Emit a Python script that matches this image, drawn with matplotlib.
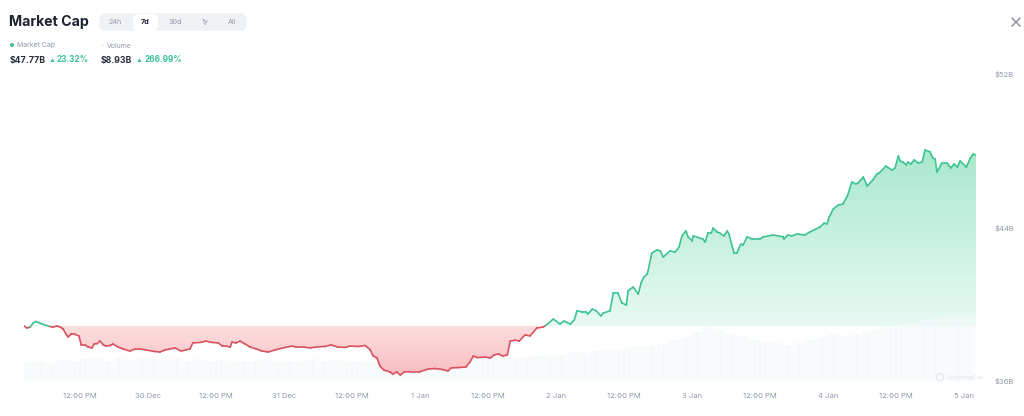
import numpy as np
import matplotlib
matplotlib.use("Agg")
import matplotlib.pyplot as plt
from matplotlib.collections import LineCollection
from matplotlib.colors import LinearSegmentedColormap
from matplotlib.patches import Circle, FancyBboxPatch
from matplotlib.path import Path

plt.rcParams["font.family"] = ["Inter", "DejaVu Sans"]

# hours since 29 Dec 00:00
hours = [
    2.1, 2.6, 3.2, 3.7, 4.2, 4.9, 5.8, 6.7, 7.2, 7.9, 8.5, 9.0, 9.5, 9.9, 10.4, 10.9, 11.8, 12.2, 12.9, 13.4,
    14.1, 14.5, 15.0, 15.5, 16.1, 16.6, 17.3, 17.8, 18.7, 19.6, 20.8, 21.7, 22.6, 23.6, 25.1, 26.1, 27.0, 28.8, 29.8, 31.4,
    31.9, 33.2, 34.2, 35.3, 36.4, 37.1, 37.8, 38.5, 38.8, 39.5, 40.2, 41.1, 42.0, 43.1, 44.1, 45.2, 46.4, 48.2, 49.4, 50.1,
    51.5, 52.6, 53.6, 55.2, 56.3, 57.5, 58.8, 59.6, 61.1, 62.3, 63.2, 63.7, 64.4, 64.9, 65.6, 66.7, 67.2, 67.9, 68.5, 69.2,
    70.2, 72.0, 73.4, 74.6, 75.9, 76.9, 77.5, 78.7, 80.1, 80.8, 81.4, 82.1, 83.5, 84.4, 85.1, 85.8, 86.6, 87.4, 87.9, 88.8,
    89.5, 90.5, 91.4, 92.6, 93.7, 94.1, 95.5, 96.7, 97.4, 98.5, 99.2, 99.7, 100.6, 101.3, 101.6, 102.4, 103.1, 103.9, 104.3, 105.5,
    106.1, 106.9, 107.6, 108.4, 108.7, 109.6, 110.5, 111.0, 111.5, 112.1, 112.9, 113.8, 114.4, 114.9, 116.1, 117.0, 117.7, 118.2, 118.9, 119.3,
    120.0, 120.2, 121.9, 122.3, 122.8, 123.4, 123.7, 124.4, 124.9, 125.6, 126.2, 126.5, 127.4, 127.9, 128.6, 129.0, 129.7, 130.6, 132.0, 132.5,
    134.3, 136.1, 136.2, 136.9, 137.6, 138.5, 139.9, 140.8, 142.6, 143.3, 143.8, 144.2, 144.9, 145.8, 146.6, 147.4, 148.2, 148.9, 149.3, 150.2,
    150.9, 151.9, 152.6, 153.0, 154.2, 155.3, 155.8, 156.4, 156.7, 157.2, 157.8, 158.1, 158.6, 159.2, 159.9, 160.6, 161.1, 162.0, 162.5, 162.9,
    163.2, 164.1, 165.0, 165.7, 166.2, 166.8, 167.3, 168.4, 169.1, 169.6, 170.1,
]
market_cap = [
    38.87, 38.76, 38.81, 39.02, 39.10, 39.02, 38.92, 38.84, 38.81, 38.87, 38.81, 38.71, 38.45, 38.29, 38.45, 38.45, 38.35, 37.88, 37.88, 37.77,
    37.72, 37.93, 37.95, 38.08, 37.88, 37.82, 37.85, 37.93, 37.77, 37.67, 37.56, 37.67, 37.67, 37.62, 37.54, 37.51, 37.62, 37.72, 37.56, 37.67,
    37.98, 38.01, 38.08, 38.01, 37.98, 37.82, 37.82, 37.77, 38.03, 37.98, 38.08, 37.93, 37.77, 37.67, 37.56, 37.51, 37.62, 37.75, 37.82, 37.77,
    37.77, 37.72, 37.77, 37.80, 37.88, 37.77, 37.75, 37.82, 37.80, 37.85, 37.62, 37.31, 37.20, 36.78, 36.57, 36.47, 36.36, 36.47, 36.31, 36.47,
    36.49, 36.49, 36.62, 36.65, 36.60, 36.52, 36.68, 36.70, 36.73, 36.99, 37.30, 37.22, 37.25, 37.20, 37.36, 37.41, 37.30, 37.36, 38.08, 38.13,
    38.08, 38.40, 38.35, 38.76, 38.81, 38.88, 39.23, 38.97, 39.13, 38.96, 39.18, 39.66, 39.60, 39.60, 39.49, 39.75, 39.65, 39.39, 39.54, 39.65,
    40.59, 40.59, 40.07, 39.96, 40.69, 40.90, 40.53, 41.11, 41.42, 41.58, 42.67, 42.83, 42.78, 42.46, 42.78, 42.72, 42.98, 43.56, 43.82, 43.51,
    43.30, 43.56, 43.40, 43.24, 43.71, 43.71, 43.97, 43.77, 43.71, 43.56, 43.82, 43.66, 42.67, 42.67, 43.14, 43.09, 43.51, 43.40, 43.40, 43.51,
    43.61, 43.51, 43.40, 43.61, 43.56, 43.66, 43.61, 43.77, 44.03, 44.23, 44.18, 44.55, 44.96, 45.17, 45.22, 45.64, 46.37, 46.27, 46.32, 46.63,
    46.16, 46.48, 46.79, 46.84, 47.20, 46.99, 47.10, 47.73, 47.47, 47.41, 47.26, 47.41, 47.31, 47.52, 47.36, 47.41, 48.04, 47.94, 47.62, 47.57,
    46.89, 47.36, 47.36, 47.10, 47.31, 47.15, 47.47, 47.15, 47.62, 47.83, 47.77,
]
baseline = 38.87

# one volume bar every two hours, in $B
volume_hours = list(range(3, 171, 2))
volume = [
    2.5, 2.7, 2.4, 2.8, 2.6, 2.9, 3.0, 2.7, 3.1, 2.8, 3.0, 3.2, 2.8, 3.0, 2.7, 2.9, 2.6, 2.8, 2.5, 2.7, 2.6,
    2.8, 2.5, 2.7, 2.6, 2.9, 2.6, 2.8, 2.5, 2.7, 2.6, 2.5, 2.7, 2.6, 2.8, 3.0, 3.2, 3.3, 3.1, 3.2, 3.0, 3.1,
    3.2, 3.0, 3.2, 3.3, 3.4, 3.5, 3.8, 3.7, 4.0, 4.2, 4.1, 4.5, 4.7, 4.6, 4.9, 5.4, 5.8, 6.5, 7.2, 6.8, 6.3,
    6.0, 5.4, 5.2, 5.0, 4.8, 5.1, 5.4, 5.8, 6.2, 6.0, 6.3, 6.6, 6.9, 7.3, 7.6, 7.9, 8.1, 8.3, 8.5, 8.7, 8.93,
]

price_ticks = [36, 44, 52]
price_labels = ["$36B", "$44B", "$52B"]
time_ticks = [12, 24, 36, 48, 60, 72, 84, 96, 108, 120, 132, 144, 156, 168]
time_labels = ["12:00 PM", "30 Dec", "12:00 PM", "31 Dec", "12:00 PM", "1 Jan", "12:00 PM", "2 Jan",
               "12:00 PM", "3 Jan", "12:00 PM", "4 Jan", "12:00 PM", "5 Jan"]

GREEN = "#3cc492"
RED = "#d8535f"
GREY = "#8f97a8"

hours = np.array(hours)
market_cap = np.array(market_cap)

fig = plt.figure(figsize=(10.24, 4.16), dpi=100)
ax = fig.add_axes([24 / 1024, 1 - 381 / 416, (976 - 24) / 1024, (381 - 74) / 416])
ax.set_xlim(2.1, 170.1)
ax.set_ylim(36, 52)

# volume bars sit on their own scale at the bottom
vol_ax = ax.twinx()
vol_ax.set_ylim(0, 40.9)
vol_ax.bar(volume_hours, volume, width=2, color="#f4f9fb", alpha=0.6, lw=0, zorder=2)
vol_ax.bar(volume_hours, volume, width=0.1, color="#eef3f7", alpha=0.6, lw=0, zorder=2)
vol_ax.axis("off")
ax.set_zorder(vol_ax.get_zorder() - 1)

line_ax = fig.add_axes(ax.get_position(), sharex=ax, sharey=ax)
line_ax.patch.set_alpha(0)


def gradient_fill(target, where, colors, y_low, y_high):
    poly = target.fill_between(hours, market_cap, baseline, where=where, interpolate=True, color="none", lw=0)
    clip = Path.make_compound_path(*poly.get_paths())
    cmap = LinearSegmentedColormap.from_list("fill", colors)
    img = target.imshow(np.linspace(1, 0, 256).reshape(-1, 1), cmap=cmap, aspect="auto",
                        extent=[2.1, 170.1, y_low, y_high], zorder=1)
    img.set_clip_path(clip, target.transData)


# green goes under the volume bars, red stays on top of them
gradient_fill(ax, market_cap >= baseline, ["#e8faf3", "#a9e8cd"], baseline, 48)
gradient_fill(line_ax, market_cap <= baseline, ["#f8bdc2", "#fddfe0"], 36.3, baseline)

points = np.column_stack([hours, market_cap])
segments = np.stack([points[:-1], points[1:]], axis=1)
seg_colors = [GREEN if (a + b) / 2 >= baseline else RED for a, b in zip(market_cap[:-1], market_cap[1:])]
line_ax.add_collection(LineCollection(segments, colors=seg_colors, linewidths=1.2, capstyle="round",
                                      joinstyle="round", zorder=3))
line_ax.set_xlim(2.1, 170.1)
line_ax.set_ylim(36, 52)
line_ax.axis("off")

ax.set_xlim(2.1, 170.1)
ax.set_ylim(36, 52)
ax.set_xticks(time_ticks, time_labels)
ax.yaxis.tick_right()
ax.set_yticks(price_ticks, price_labels)
ax.tick_params(length=0, labelsize=5.5, labelcolor=GREY)
ax.tick_params(axis="x", pad=9)
ax.tick_params(axis="y", pad=13)
for side in ax.spines.values():
    side.set_visible(False)

# header, close button and watermark in pixel coordinates
ui = fig.add_axes([0, 0, 1, 1], zorder=10)
ui.set_xlim(0, 1024)
ui.set_ylim(416, 0)
ui.axis("off")

ui.text(9, 22, "Market Cap", fontsize=10.2, fontweight="bold", color="#1c2230", va="center")
ui.add_patch(FancyBboxPatch((102, 16), 142, 12, boxstyle="round,pad=0,rounding_size=3",
                            fc="#eff2f5", ec="#eff2f5", lw=4))
ui.add_patch(FancyBboxPatch((135, 16), 21, 13, boxstyle="round,pad=0,rounding_size=3",
                            fc="white", ec="white", lw=3))
for label, x in zip(["24h", "7d", "30d", "1y", "All"], [115.5, 145.5, 175, 205, 232.5]):
    selected = label == "7d"
    ui.text(x, 22, label, fontsize=5.2, ha="center", va="center",
            color="#1c2230" if selected else GREY, fontweight="bold" if selected else "normal")

ui.add_patch(Circle((12, 45), 2, fc=GREEN, ec="none"))
ui.text(17, 45.5, "Market Cap", fontsize=5, color=GREY, va="center")
ui.add_patch(Circle((102.5, 45.5), 1.5, fc="#f0f3f6", ec="none"))
ui.text(107, 45.5, "Volume", fontsize=5, color=GREY, va="center")
ui.text(10, 60, "$47.77B", fontsize=6.3, fontweight="bold", color="#2a2f3b", va="center")
ui.text(49.5, 60, "▲", fontsize=3.5, color=GREEN, va="center")
ui.text(57, 60, "23.32%", fontsize=5.9, fontweight="bold", color=GREEN, va="center")
ui.text(100.5, 60, "$8.93B", fontsize=6.3, fontweight="bold", color="#2a2f3b", va="center")
ui.text(137, 60, "▲", fontsize=3.5, color=GREEN, va="center")
ui.text(144.5, 60, "266.99%", fontsize=5.9, fontweight="bold", color=GREEN, va="center")

ui.plot([1012, 1020], [18, 26], color="#7f8796", lw=0.9)
ui.plot([1012, 1020], [26, 18], color="#7f8796", lw=0.9)

ui.add_patch(Circle((940, 377), 3.5, fc="none", ec="#dfe3e8", lw=0.7))
ui.text(947, 377, "CoinMarketCap", fontsize=3.6, color="#dfe3e8", va="center")

fig.savefig("out.png", dpi=100)
